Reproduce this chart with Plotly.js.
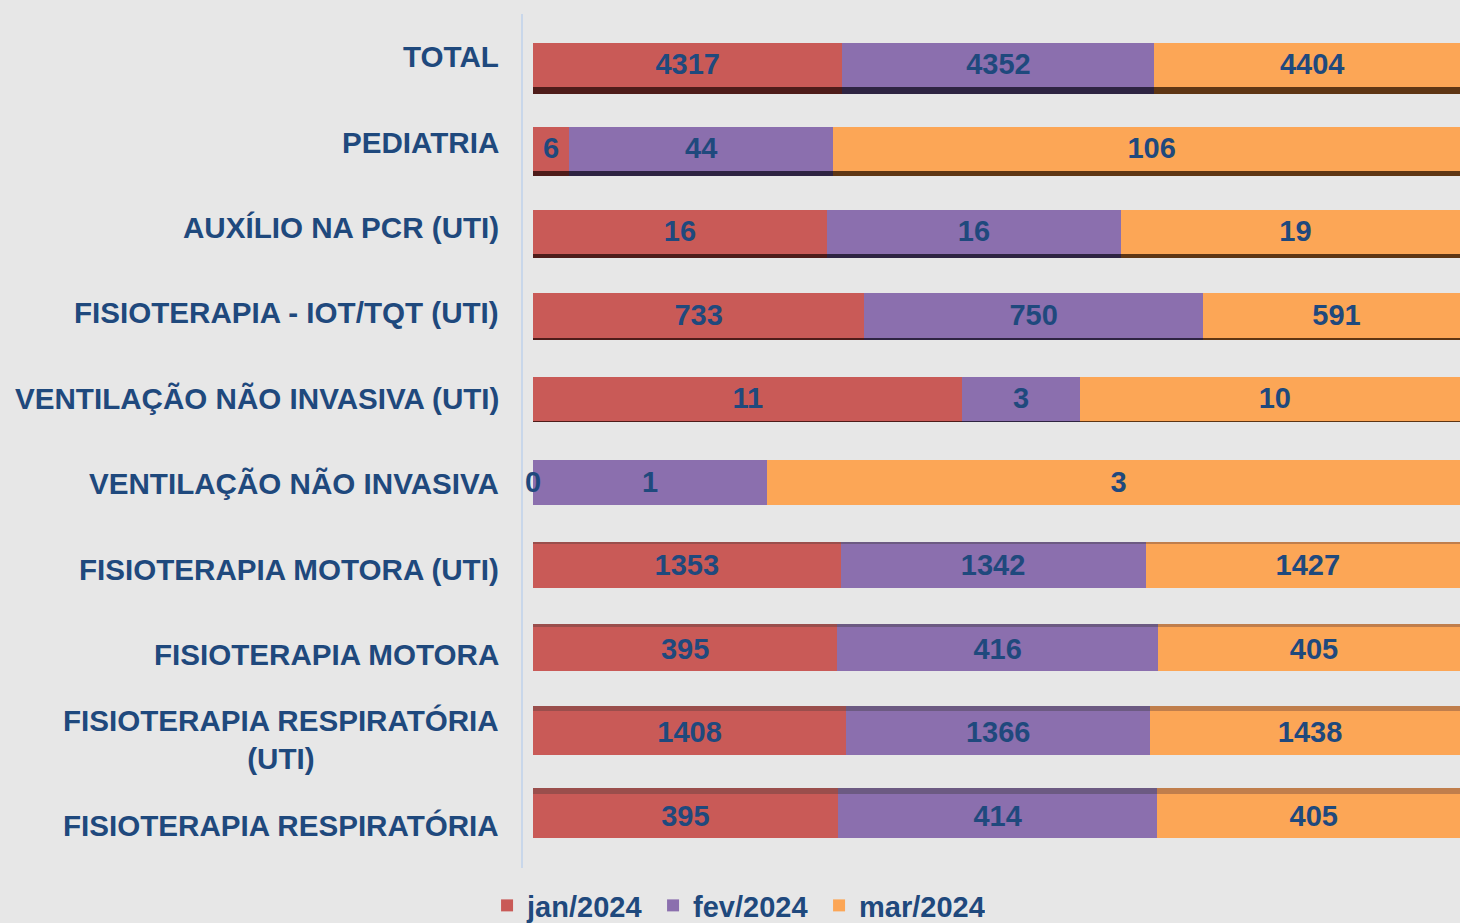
<!DOCTYPE html>
<html>
<head>
<meta charset="utf-8">
<script src="https://cdn.plot.ly/plotly-3.0.1.min.js"></script>
<style>
  html, body { margin: 0; padding: 0; background: #e7e7e7; }
  #chart { width: 1460px; height: 923px; }
</style>
</head>
<body>
<div id="chart"></div>
<script>
const categories = [
  'TOTAL',
  'PEDIATRIA',
  'AUXÍLIO NA PCR (UTI)',
  'FISIOTERAPIA - IOT/TQT (UTI)',
  'VENTILAÇÃO NÃO INVASIVA (UTI)',
  'VENTILAÇÃO NÃO INVASIVA',
  'FISIOTERAPIA MOTORA (UTI)',
  'FISIOTERAPIA MOTORA',
  'FISIOTERAPIA RESPIRATÓRIA (UTI)',
  'FISIOTERAPIA RESPIRATÓRIA'
];
const categoryLabels = [
  'TOTAL',
  'PEDIATRIA',
  'AUXÍLIO NA PCR (UTI)',
  'FISIOTERAPIA - IOT/TQT (UTI)',
  'VENTILAÇÃO NÃO INVASIVA (UTI)',
  'VENTILAÇÃO NÃO INVASIVA',
  'FISIOTERAPIA MOTORA (UTI)',
  'FISIOTERAPIA MOTORA',
  'FISIOTERAPIA RESPIRATÓRIA<br>(UTI)',
  'FISIOTERAPIA RESPIRATÓRIA'
];
const seriesNames = ['jan/2024', 'fev/2024', 'mar/2024'];
const jan2024 = [4317, 6, 16, 733, 11, 0, 1353, 395, 1408, 395];
const fev2024 = [4352, 44, 16, 750, 3, 1, 1342, 416, 1366, 414];
const mar2024 = [4404, 106, 19, 591, 10, 3, 1427, 405, 1438, 405];

const seriesValues = [jan2024, fev2024, mar2024];
const seriesColors = ['#c95a57', '#8b6fae', '#fca656'];
const edgeDark = ['#4e1c1a', '#2e2442', '#5e3614'];
const edgeLight = ['#9a4e4c', '#6c5a82', '#c07e4c'];
const textColor = '#1f497d';
const fontFamily = '"Liberation Sans", Arial, sans-serif';

const traces = [];

// 3D edge strips (drawn first, behind the bar faces)
seriesValues.forEach((vals, i) => {
  traces.push({
    type: 'bar',
    orientation: 'h',
    x: vals,
    y: categories,
    yaxis: 'y',
    marker: {
      color: categories.map((c, k) => (k < 5 ? edgeDark[i] : edgeLight[i])),
      line: { width: 0 }
    },
    showlegend: false,
    hoverinfo: 'skip'
  });
});

// bar faces
seriesValues.forEach((vals, i) => {
  traces.push({
    type: 'bar',
    orientation: 'h',
    name: seriesNames[i],
    x: vals,
    y: categories,
    yaxis: 'y3',
    marker: { color: seriesColors[i], line: { width: 0 } },
    hoverinfo: 'x+y+name'
  });
});

// invisible anchor trace for the category label axis
traces.push({
  type: 'scatter',
  mode: 'markers',
  x: categories.map(() => 0),
  y: categories,
  yaxis: 'y2',
  marker: { opacity: 0 },
  showlegend: false,
  hoverinfo: 'skip'
});

// data labels at the middle of each segment (percent of row total)
const totals = categories.map((c, k) => jan2024[k] + fev2024[k] + mar2024[k]);
seriesValues.forEach((vals, i) => {
  const mids = vals.map((v, k) => {
    let before = 0;
    for (let j = 0; j < i; j++) before += seriesValues[j][k];
    return (before + v / 2) / totals[k] * 100;
  });
  traces.push({
    type: 'scatter',
    mode: 'text',
    x: mids,
    y: categories,
    yaxis: 'y4',
    text: vals.map(String),
    textposition: 'middle center',
    textfont: { family: fontFamily, size: 29, color: textColor, weight: 'bold' },
    cliponaxis: false,
    showlegend: false,
    hoverinfo: 'skip'
  });
});

const annotations = categories.map((c, k) => ({
  xref: 'paper', x: 0, xanchor: 'right', xshift: -22,
  yref: 'y2', y: c, yanchor: 'middle',
  text: categoryLabels[k],
  align: 'center',
  showarrow: false,
  font: { family: fontFamily, size: 29.6, color: textColor, weight: 'bold' }
}));

const catRange = [categories.length - 0.5, -0.5];
const hiddenCat = {
  type: 'category',
  range: catRange,
  autorange: false,
  showticklabels: false,
  showgrid: false,
  zeroline: false,
  showline: false,
  ticks: '',
  anchor: 'x'
};

const layout = {
  width: 1460,
  height: 923,
  paper_bgcolor: '#e7e7e7',
  plot_bgcolor: 'rgba(0,0,0,0)',
  margin: { l: 523, r: 0, t: 0, b: 0, autoexpand: false },
  barmode: 'stack',
  barnorm: 'percent',
  bargap: 0.47,
  showlegend: true,
  font: { family: fontFamily, color: textColor },
  xaxis: {
    range: [-1.067, 98.93],
    visible: false,
    fixedrange: true
  },
  yaxis: Object.assign({}, hiddenCat, { domain: [1 - 851 / 923, 1 - 31 / 923] }),
  yaxis2: Object.assign({}, hiddenCat, {
    domain: [1 - 867.7 / 923, 1 - 14.3 / 923],
    showline: true,
    linecolor: '#c9d7ea',
    linewidth: 2
  }),
  yaxis3: Object.assign({}, hiddenCat, { domain: [1 - 858 / 923, 1 - 23.5 / 923] }),
  yaxis4: Object.assign({}, hiddenCat, { domain: [1 - 860 / 923, 1 - 25.5 / 923] }),
  legend: {
    orientation: 'h',
    xref: 'container', x: 0.3336, xanchor: 'left',
    yref: 'paper', y: -0.0087, yanchor: 'bottom',
    entrywidth: 121,
    bgcolor: 'rgba(0,0,0,0)',
    font: { family: fontFamily, size: 29, color: textColor, weight: 'bold' },
    traceorder: 'normal'
  },
  annotations: annotations
};

Plotly.newPlot('chart', traces, layout, { displayModeBar: false, staticPlot: true });
</script>
</body>
</html>
